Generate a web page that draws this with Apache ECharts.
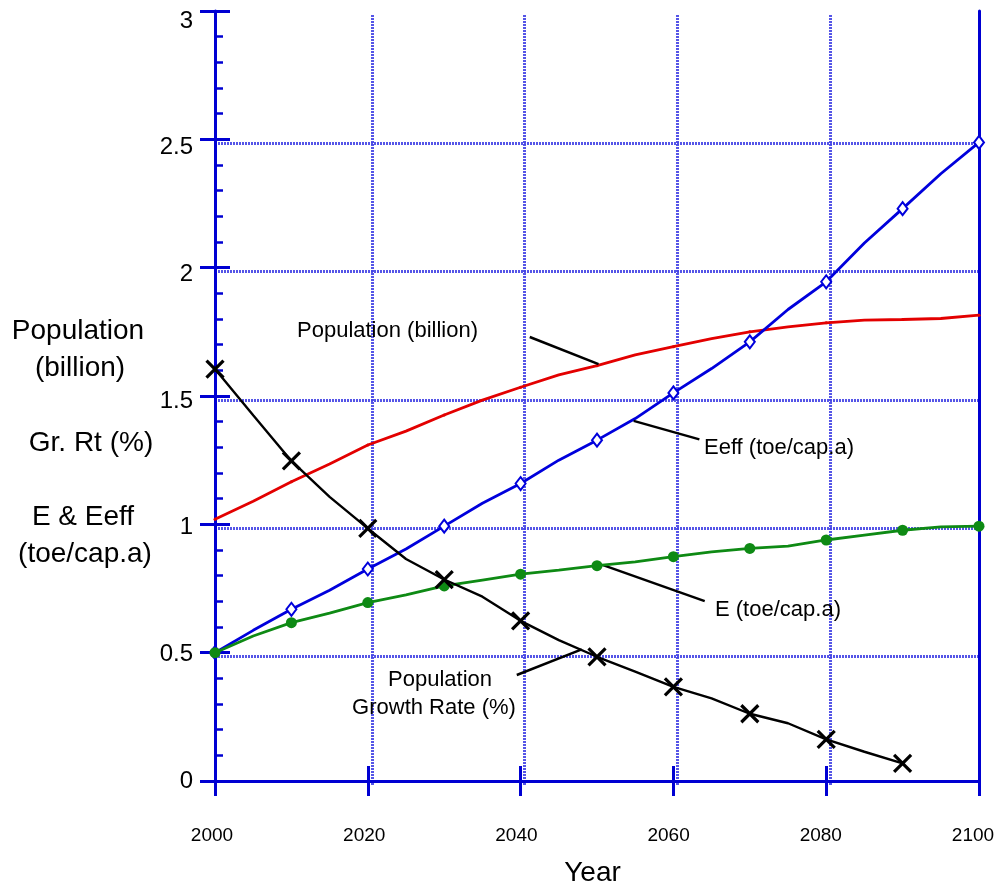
<!DOCTYPE html>
<html>
<head>
<meta charset="utf-8">
<script src="https://cdn.jsdelivr.net/npm/echarts@6/dist/echarts.min.js"></script>
<style>
  html, body { margin: 0; padding: 0; background: #ffffff; }
  #chart { width: 1001px; height: 892px; }
</style>
</head>
<body>
<div id="chart"></div>
<script>
// Projection, 2000-2100, every 5 years
const years = [2000, 2005, 2010, 2015, 2020, 2025, 2030, 2035, 2040, 2045, 2050,
               2055, 2060, 2065, 2070, 2075, 2080, 2085, 2090, 2095, 2100];

// Population (billion)
const population = [1.02, 1.09, 1.166, 1.235, 1.309, 1.363, 1.426, 1.484, 1.534, 1.582, 1.618,
                    1.66, 1.692, 1.724, 1.75, 1.769, 1.785, 1.796, 1.798, 1.802, 1.815];

// Effective energy, Eeff (toe/cap.a)
const eeff = [0.50, 0.587, 0.669, 0.743, 0.826, 0.904, 0.993, 1.082, 1.159, 1.25, 1.328,
              1.412, 1.512, 1.607, 1.711, 1.837, 1.945, 2.096, 2.23, 2.366, 2.488];

// Energy, E (toe/cap.a)
const energy = [0.50, 0.565, 0.617, 0.654, 0.695, 0.725, 0.76, 0.783, 0.806, 0.822, 0.839,
                0.854, 0.874, 0.893, 0.906, 0.915, 0.939, 0.958, 0.977, 0.99, 0.993];

// Population growth rate (%), ends in 2090
const growthRate = [1.605, 1.425, 1.247, 1.107, 0.984, 0.865, 0.785, 0.718, 0.624, 0.549, 0.484,
                    0.426, 0.367, 0.322, 0.262, 0.225, 0.162, 0.114, 0.069];

// Axis ticks
const xTicks = { min: 2000, max: 2100, step: 20 };
const yTicks = { min: 0, max: 3, step: 0.5 };

// Leader lines joining each caption to its curve: [[year, value], [year, value]]
const leaders = {
  population: [[2041.2, 1.73], [2050.2, 1.624]],
  eeff:       [[2054.8, 1.403], [2063.4, 1.331]],
  energy:     [[2050.8, 0.841], [2064.1, 0.701]],
  growth:     [[2039.5, 0.413], [2048.0, 0.513]]
};

const FONT = '"Liberation Sans", Arial, Helvetica, sans-serif';
const AXIS_BLUE = '#0000d2';
const GRID_BLUE = '#4343e4';
const RED = '#e30000';
const BLUE = '#0000dc';
const GREEN = '#0e8a14';
const BLACK = '#000000';

function seriesData(values, symbol) {
  return values.map((v, i) => ({
    value: [years[i], v],
    symbol: years[i] % 10 === 0 ? symbol : 'none'
  }));
}

function leaderLine(pair) {
  return {
    silent: true,
    symbol: ['none', 'none'],
    label: { show: false },
    lineStyle: { color: BLACK, width: 2.5, type: 'solid' },
    emphasis: { disabled: true },
    data: [[{ coord: pair[0] }, { coord: pair[1] }]]
  };
}

const gridLineStyle = { color: GRID_BLUE, width: 3, type: [2, 1], opacity: 0.9 };

const xBase = { type: 'value', min: xTicks.min, max: xTicks.max, interval: xTicks.step };
const yBase = { type: 'value', min: yTicks.min, max: yTicks.max, interval: yTicks.step };
const blueLine = { show: true, lineStyle: { color: AXIS_BLUE, width: 3 } };
const noLine = { show: false };
const noTick = { show: false };
const noLabel = { show: false };
const noSplit = { show: false };

const chart = echarts.init(document.getElementById('chart'), null, { renderer: 'canvas' });

chart.setOption({
  animation: false,
  backgroundColor: '#ffffff',
  grid: [
    // 0: plot area
    { left: 215, right: 22, top: 11, bottom: 111 },
    // 1: inward ticks
    { left: 215, right: 22, top: 11, bottom: 111 },
    // 2: horizontal dotted grid
    { left: 218, right: 22, top: 15, bottom: 107 },
    // 3: vertical dotted grid
    { left: 219, right: 18, top: 15, bottom: 107 },
    // 4: tick labels and axis name
    { left: 212, right: 28, top: 21, bottom: 111 }
  ],
  xAxis: [
    Object.assign({}, xBase, { gridIndex: 0, position: 'bottom', axisLine: blueLine,
      axisTick: { show: true, inside: false, length: 15, lineStyle: { color: AXIS_BLUE, width: 3 } },
      axisLabel: noLabel, splitLine: noSplit }),
    Object.assign({}, xBase, { gridIndex: 0, position: 'top', axisLine: blueLine,
      axisTick: noTick, axisLabel: noLabel, splitLine: noSplit }),
    Object.assign({}, xBase, { gridIndex: 1, position: 'bottom', axisLine: noLine,
      axisTick: { show: true, inside: true, length: 15, lineStyle: { color: AXIS_BLUE, width: 3 } },
      axisLabel: noLabel, splitLine: noSplit }),
    Object.assign({}, xBase, { gridIndex: 2, show: false }),
    Object.assign({}, xBase, { gridIndex: 3, axisLine: noLine, axisTick: noTick, axisLabel: noLabel,
      splitLine: { show: true, showMinLine: false, showMaxLine: false, lineStyle: gridLineStyle } }),
    Object.assign({}, xBase, { gridIndex: 4, position: 'bottom', axisLine: noLine, axisTick: noTick,
      splitLine: noSplit,
      axisLabel: { show: true, color: '#000', fontFamily: FONT, fontSize: 19, margin: 45,
        formatter: (v) => String(v) },
      name: 'Year', nameLocation: 'middle', nameGap: 78,
      nameTextStyle: { color: '#000', fontFamily: FONT, fontSize: 28 } })
  ],
  yAxis: [
    Object.assign({}, yBase, { gridIndex: 0, position: 'left', axisLine: blueLine,
      axisTick: { show: true, inside: false, length: 15, lineStyle: { color: AXIS_BLUE, width: 3 } },
      axisLabel: noLabel, splitLine: noSplit }),
    Object.assign({}, yBase, { gridIndex: 0, position: 'right', axisLine: blueLine,
      axisTick: noTick, axisLabel: noLabel, splitLine: noSplit }),
    Object.assign({}, yBase, { gridIndex: 1, position: 'left', axisLine: noLine,
      axisTick: { show: true, inside: true, length: 15, lineStyle: { color: AXIS_BLUE, width: 3 } },
      minorTick: { show: true, splitNumber: 5, length: 8, lineStyle: { color: AXIS_BLUE, width: 2.5 } },
      axisLabel: noLabel, splitLine: noSplit }),
    Object.assign({}, yBase, { gridIndex: 2, axisLine: noLine, axisTick: noTick, axisLabel: noLabel,
      splitLine: { show: true, showMinLine: false, showMaxLine: false, lineStyle: gridLineStyle } }),
    Object.assign({}, yBase, { gridIndex: 3, show: false }),
    Object.assign({}, yBase, { gridIndex: 4, position: 'left', axisLine: noLine, axisTick: noTick,
      splitLine: noSplit,
      axisLabel: { show: true, color: '#000', fontFamily: FONT, fontSize: 24, margin: 19 } })
  ],
  series: [
    {
      name: 'Population (billion)', type: 'line', xAxisIndex: 0, yAxisIndex: 0,
      data: seriesData(population, 'circle'), symbolSize: 3,
      lineStyle: { color: RED, width: 2.8 }, itemStyle: { color: RED },
      markLine: leaderLine(leaders.population), z: 3
    },
    {
      name: 'Eeff (toe/cap.a)', type: 'line', xAxisIndex: 0, yAxisIndex: 0,
      data: seriesData(eeff, 'emptyDiamond'), symbolSize: [10, 13],
      lineStyle: { color: BLUE, width: 2.8 },
      itemStyle: { color: BLUE, borderColor: BLUE, borderWidth: 2 },
      markLine: leaderLine(leaders.eeff), z: 4
    },
    {
      name: 'E (toe/cap.a)', type: 'line', xAxisIndex: 0, yAxisIndex: 0,
      data: seriesData(energy, 'circle'), symbolSize: 11,
      lineStyle: { color: GREEN, width: 2.8 }, itemStyle: { color: GREEN },
      markLine: leaderLine(leaders.energy), z: 5
    },
    {
      name: 'Population Growth Rate (%)', type: 'line', xAxisIndex: 0, yAxisIndex: 0,
      data: seriesData(growthRate, 'path://M0,0L10,10M10,0L0,10'), symbolSize: 17,
      lineStyle: { color: BLACK, width: 2.4 },
      itemStyle: { color: 'none', borderColor: BLACK, borderWidth: 3.2 },
      markLine: leaderLine(leaders.growth), z: 6
    }
  ],
  graphic: [
    // axis title block on the left
    { type: 'text', x: 78, y: 331, style: { text: 'Population', fill: '#000', font: '28px ' + FONT, textAlign: 'center', textVerticalAlign: 'middle' } },
    { type: 'text', x: 80, y: 368, style: { text: '(billion)', fill: '#000', font: '28px ' + FONT, textAlign: 'center', textVerticalAlign: 'middle' } },
    { type: 'text', x: 91, y: 443, style: { text: 'Gr. Rt (%)', fill: '#000', font: '28px ' + FONT, textAlign: 'center', textVerticalAlign: 'middle' } },
    { type: 'text', x: 83, y: 517, style: { text: 'E & Eeff', fill: '#000', font: '28px ' + FONT, textAlign: 'center', textVerticalAlign: 'middle' } },
    { type: 'text', x: 85, y: 554, style: { text: '(toe/cap.a)', fill: '#000', font: '28px ' + FONT, textAlign: 'center', textVerticalAlign: 'middle' } },
    // curve captions
    { type: 'text', x: 297, y: 331, z: 20, style: { text: 'Population (billion)', fill: '#000', font: '22px ' + FONT, textAlign: 'left', textVerticalAlign: 'middle' } },
    { type: 'text', x: 704, y: 448, z: 20, style: { text: 'Eeff (toe/cap.a)', fill: '#000', font: '22px ' + FONT, textAlign: 'left', textVerticalAlign: 'middle' } },
    { type: 'text', x: 715, y: 610, z: 20, style: { text: 'E (toe/cap.a)', fill: '#000', font: '22px ' + FONT, textAlign: 'left', textVerticalAlign: 'middle' } },
    { type: 'text', x: 440, y: 680, z: 20, style: { text: 'Population', fill: '#000', font: '22px ' + FONT, textAlign: 'center', textVerticalAlign: 'middle' } },
    { type: 'text', x: 434, y: 708, z: 20, style: { text: 'Growth Rate (%)', fill: '#000', font: '22px ' + FONT, textAlign: 'center', textVerticalAlign: 'middle' } }
  ]
});
</script>
</body>
</html>
